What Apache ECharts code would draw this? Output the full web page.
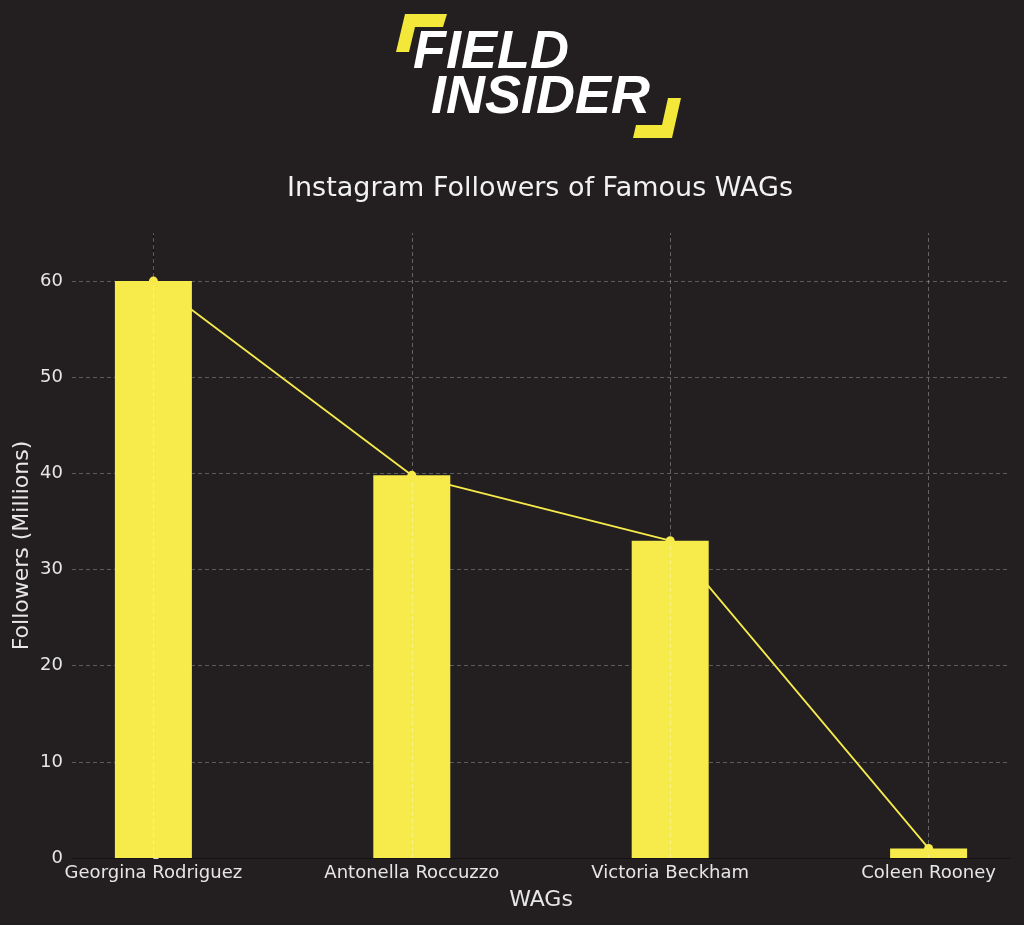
<!DOCTYPE html>
<html>
<head>
<meta charset="utf-8">
<script src="https://cdn.jsdelivr.net/npm/echarts@6/dist/echarts.min.js"></script>
<style>
html,body{margin:0;padding:0;background:#231f20;}
#chart{width:1024px;height:925px;}
</style>
</head>
<body>
<div id="chart"></div>
<script>
const categories = ['Georgina Rodriguez', 'Antonella Roccuzzo', 'Victoria Beckham', 'Coleen Rooney'];
const followers = [60, 39.8, 33, 1];
const yTicks = [0, 10, 20, 30, 40, 50, 60];

const chart = echarts.init(document.getElementById('chart'));
const idx = categories.map((c, i) => i);
const barData = followers.map((v, i) => [i, v]);
const lineData = followers.map((v, i) => [i, v]);
const yellow = '#f6eb4b';
const textColor = '#e6e6e6';
const font = 'DejaVu Sans';
const logoFont = 'italic 900 54px "Liberation Sans", Arial, sans-serif';

const option = {
  backgroundColor: '#231f20',
  animation: false,
  title: {
    text: 'Instagram Followers of Famous WAGs',
    left: 282,
    top: 170,
    textStyle: { color: '#f2f2f2', fontSize: 27, fontWeight: 'normal', fontFamily: font }
  },
  graphic: [
    { type: 'polygon', shape: { points: [[405,14],[447,14],[443,27],[415,27],[409,52],[396,52]] }, style: { fill: '#f3e83a' } },
    { type: 'polygon', shape: { points: [[681,98],[668,98],[662,125],[636,125],[633,138],[672,138]] }, style: { fill: '#f3e83a' } },
    { type: 'text', x: 413, y: 53, style: { text: 'FIELD', fill: '#ffffff', font: logoFont, verticalAlign: 'middle' } },
    { type: 'text', x: 431, y: 98, style: { text: 'INSIDER', fill: '#ffffff', font: logoFont, verticalAlign: 'middle' } }
  ],
  grid: { left: 72, right: 14, top: 233, bottom: 67, containLabel: false, outerBoundsMode: 'none' },
  xAxis: {
    type: 'value',
    min: -0.315,
    max: 3.315,
    name: 'WAGs',
    nameLocation: 'middle',
    nameGap: 31,
    nameMoveOverlap: false,
    nameTextStyle: { color: textColor, fontSize: 22, fontFamily: font },
    axisLine: { show: true, lineStyle: { color: '#151313', width: 1 } },
    axisTick: { show: true, inside: true, length: 5, customValues: idx, lineStyle: { color: '#dddddd' } },
    axisLabel: {
      customValues: idx,
      color: textColor, fontSize: 18, fontFamily: font, margin: 6,
      formatter: v => categories[Math.round(v)] || ''
    },
    splitLine: { show: false }
  },
  yAxis: {
    type: 'value',
    min: 0,
    max: 65,
    interval: 10,
    name: 'Followers (Millions)',
    nameLocation: 'middle',
    nameGap: 39,
    nameMoveOverlap: false,
    nameTextStyle: { color: textColor, fontSize: 22, fontFamily: font },
    axisLine: { show: true, lineStyle: { color: '#151313', width: 1 } },
    axisTick: { show: true, inside: true, length: 5, customValues: yTicks, lineStyle: { color: '#dddddd' } },
    axisLabel: {
      customValues: yTicks,
      color: textColor, fontSize: 18, fontFamily: font, margin: 9
    },
    splitLine: { show: true, showMinLine: false, lineStyle: { color: '#5c5c5c', type: [4, 3], width: 1 } }
  },
  series: [
    {
      type: 'bar',
      data: barData,
      barWidth: 77,
      itemStyle: { color: yellow },
      z: 2,
      markLine: {
        silent: true,
        symbol: 'none',
        label: { show: false },
        lineStyle: { color: 'rgba(255,255,255,0.3)', type: [4, 3], width: 1 },
        data: idx.map(i => ({ xAxis: i }))
      }
    },
    {
      type: 'line',
      data: lineData,
      symbol: 'circle',
      symbolSize: 9,
      lineStyle: { color: yellow, width: 1.8 },
      itemStyle: { color: yellow },
      z: 5
    }
  ]
};
chart.setOption(option);
</script>
</body>
</html>
